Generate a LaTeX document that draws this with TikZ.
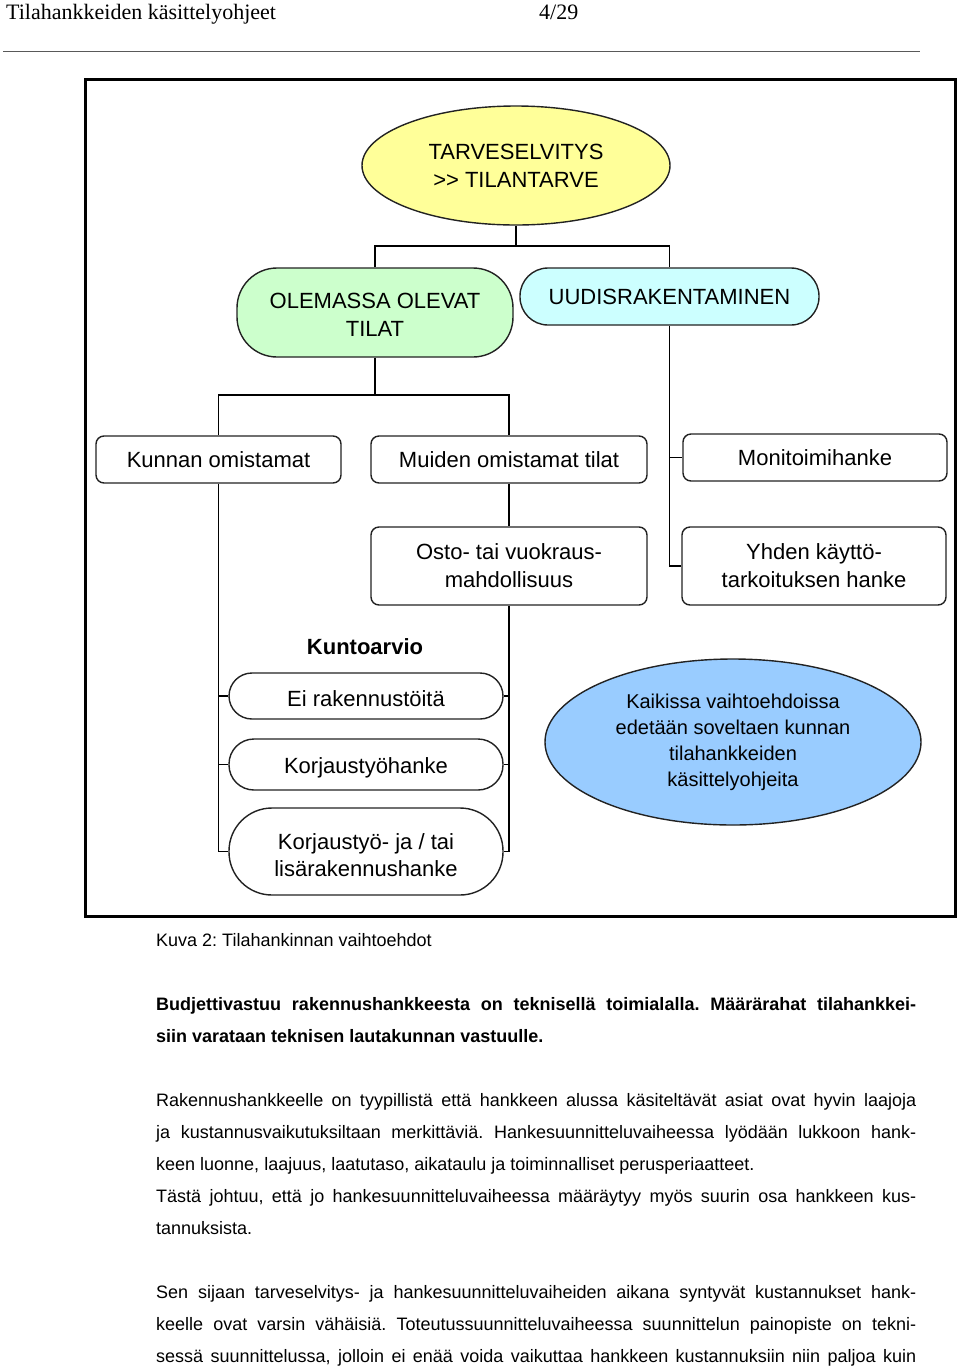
\documentclass[tikz,border=0pt]{standalone}
\usepackage{fontspec}
\setmainfont{Liberation Sans}
\newfontfamily\seriffont{Liberation Serif}
\usetikzlibrary{shapes.geometric}
\frenchspacing
\definecolor{cyel}{HTML}{FFFF99}
\definecolor{cgrn}{HTML}{CCFFCC}
\definecolor{ccyn}{HTML}{CCFFFF}
\definecolor{cblu}{HTML}{99CCFF}
\definecolor{edgegray}{HTML}{222222}
\tikzset{
  dtext/.style={font=\fontsize{22}{28}\selectfont, align=center, inner sep=0pt, text=black},
  shp/.style={dtext, draw=edgegray, line width=1.4pt},
  rbox/.style={shp, rounded corners=8pt},
  conn/.style={line width=1.2pt, draw=black},
  bodyline/.style={anchor=base west, inner sep=0pt, font=\fontsize{18}{22}\selectfont},
}
\newcommand{\jline}[1]{\makebox[760pt][s]{#1}}
\begin{document}
\begin{tikzpicture}[x=1pt,y=-1pt]
\useasboundingbox (0,0) rectangle (960,1369);
\fill[white] (0,0) rectangle (960,1369);
% header
\node[anchor=base west, inner sep=0pt, font=\seriffont\fontsize{22}{26}\selectfont] (hdr) at (6,19) {Tilahankkeiden käsittelyohjeet};
\node[anchor=base west, inner sep=0pt, font=\seriffont\fontsize{22}{26}\selectfont] (pg) at (539,19) {4/29};
\draw[line width=1pt, gray!70!black] (3,51) -- (920,51);
% frame
\draw[line width=3pt] (85,79) rectangle (955,916);
% nodes
\node[shp, ellipse, fill=cyel, minimum width=308pt, minimum height=119pt] (tarve) at (516,165.5) {TARVESELVITYS\\{>}{>} TILANTARVE};
\node[shp, fill=cgrn, rounded corners=40pt, minimum width=276pt, minimum height=89pt] (olem) at (375,312.5) {};
\node[dtext] (olemt) at ([yshift=-2.5pt]olem.center) {OLEMASSA OLEVAT\\TILAT};
\node[shp, fill=ccyn, rounded corners=28pt, minimum width=299pt, minimum height=57pt] (uudis) at (669.5,296.5) {UUDISRAKENTAMINEN};
\node[rbox, minimum width=245pt, minimum height=47pt] (kunnan) at (218.5,459.5) {Kunnan omistamat};
\node[rbox, minimum width=276pt, minimum height=47pt] (muiden) at (509,459.5) {Muiden omistamat tilat};
\node[rbox, minimum width=264pt, minimum height=47pt] (monit) at (815,457.5) {Monitoimihanke};
\node[rbox, minimum width=276pt, minimum height=78pt] (osto) at (509,566) {Osto- tai vuokraus-\\mahdollisuus};
\node[rbox, minimum width=264pt, minimum height=78pt] (yhden) at (814,566) {Yhden käyttö-\\tarkoituksen hanke};
\node[dtext, font=\bfseries\fontsize{22}{28}\selectfont] (kunto) at (365,647) {Kuntoarvio};
\node[shp, rounded corners=23pt, minimum width=274pt, minimum height=46pt] (ei) at (366,696) {};
\node[dtext] (eit) at ([yshift=-3pt]ei.center) {Ei rakennustöitä};
\node[shp, rounded corners=25pt, minimum width=274pt, minimum height=51pt] (korj1) at (366,764.5) {};
\node[dtext] (korj1t) at ([yshift=-3pt]korj1.center) {Korjaustyöhanke};
\node[shp, rounded corners=43pt, minimum width=274pt, minimum height=87pt] (korj2) at (366,851.5) {};
\node[dtext, font=\fontsize{22}{27.5}\selectfont] (korj2t) at ([yshift=-3.5pt]korj2.center) {Korjaustyö- ja / tai\\lisärakennushanke};
\node[shp, ellipse, fill=cblu, minimum width=376pt, minimum height=166pt, font=\fontsize{20}{26}\selectfont] (kaik) at (733,742) {Kaikissa vaihtoehdoissa\\edetään soveltaen kunnan\\tilahankkeiden\\käsittelyohjeita};
% connectors
\coordinate (j1) at (516,246);
\coordinate (j2) at (375,395);
\draw[conn] (tarve.south) -- (j1);
\draw[conn] (olem.north) |- (j1) -| (uudis.north);
\draw[conn] (olem.south) -- (j2);
\draw[conn] (kunnan.north) |- (j2) -| (muiden.north);
\draw[conn] (muiden.south) -- (osto.north);
\draw[conn] (uudis.south) |- (yhden.west);
\draw[conn] (uudis.south |- monit.west) -- (monit.west);
\draw[conn] (kunnan.south) |- (korj2.west);
\draw[conn] (kunnan.south |- ei.west) -- (ei.west);
\draw[conn] (kunnan.south |- korj1.west) -- (korj1.west);
\draw[conn] (osto.south) |- (korj2.east);
\draw[conn] (osto.south |- ei.east) -- (ei.east);
\draw[conn] (osto.south |- korj1.east) -- (korj1.east);
% caption and body text
\node[bodyline] (cap) at (156,946) {Kuva 2: Tilahankinnan vaihtoehdot};
\node[bodyline, font=\bfseries\fontsize{18}{22}\selectfont] (b1) at (156,1010) {\jline{Budjettivastuu rakennushankkeesta on teknisellä toimialalla. Määrärahat tilahankkei-}};
\node[bodyline, font=\bfseries\fontsize{18}{22}\selectfont] (b2) at (156,1042) {siin varataan teknisen lautakunnan vastuulle.};
\node[bodyline] (p1) at (156,1106) {\jline{Rakennushankkeelle on tyypillistä että hankkeen alussa käsiteltävät asiat ovat hyvin laajoja}};
\node[bodyline] (p2) at (156,1138) {\jline{ja kustannusvaikutuksiltaan merkittäviä. Hankesuunnitteluvaiheessa lyödään lukkoon hank-}};
\node[bodyline] (p3) at (156,1170) {keen luonne, laajuus, laatutaso, aikataulu ja toiminnalliset perusperiaatteet.};
\node[bodyline] (p4) at (156,1202) {\jline{Tästä johtuu, että jo hankesuunnitteluvaiheessa määräytyy myös suurin osa hankkeen kus-}};
\node[bodyline] (p5) at (156,1234) {tannuksista.};
\node[bodyline] (q1) at (156,1298) {\jline{Sen sijaan tarveselvitys- ja hankesuunnitteluvaiheiden aikana syntyvät kustannukset hank-}};
\node[bodyline] (q2) at (156,1330) {\jline{keelle ovat varsin vähäisiä. Toteutussuunnitteluvaiheessa suunnittelun painopiste on tekni-}};
\node[bodyline] (q3) at (156,1362) {\jline{sessä suunnittelussa, jolloin ei enää voida vaikuttaa hankkeen kustannuksiin niin paljoa kuin}};
\end{tikzpicture}
\end{document}
